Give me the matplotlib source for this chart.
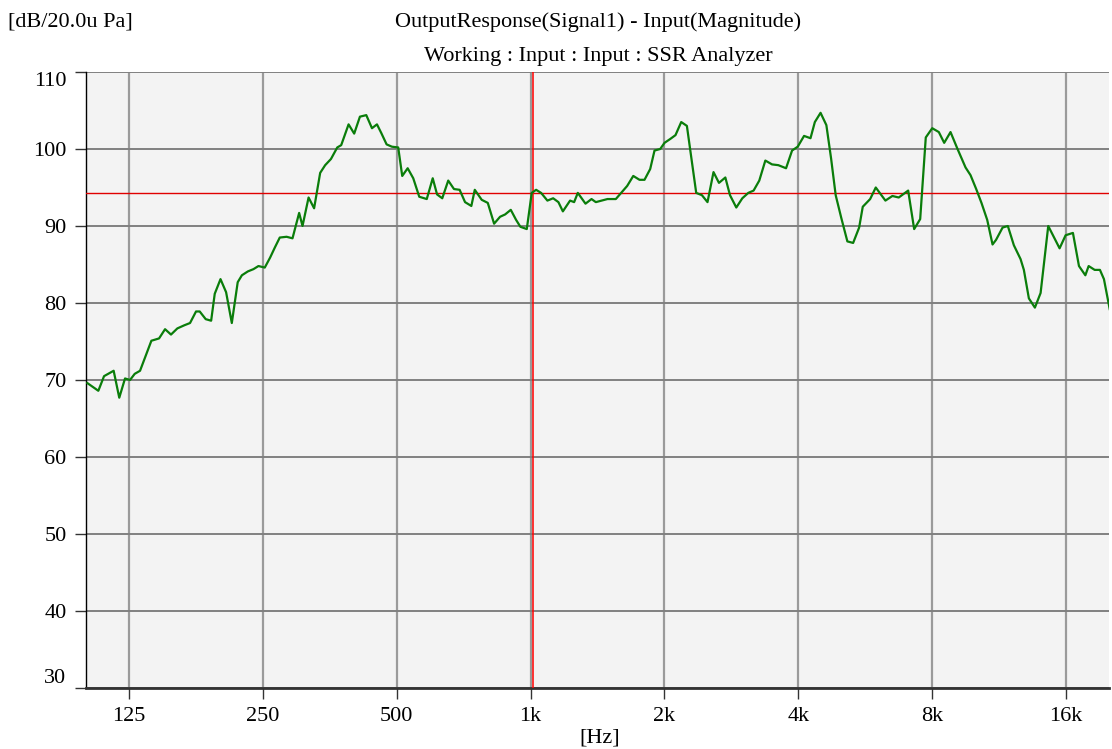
import matplotlib
matplotlib.use("Agg")
import matplotlib.pyplot as plt

# frequency response (Hz, dB re 20 uPa)
freqs = [
    100.7, 106.6, 109.8, 115.4, 118.8, 122.4, 125.6, 128.7, 132.3, 140.3,
    146.0, 150.6, 155.3, 160.5, 166.3, 171.4, 176.8, 180.2, 185.9, 191.2,
    194.8, 200.7, 206.6, 212.8, 219.4, 224.2, 231.2, 238.1, 244.3, 252.4,
    259.5, 265.9, 272.8, 282.6, 291.4, 301.6, 306.9, 316.7, 325.9, 336.3,
    345.1, 355.6, 367.4, 375.0, 389.6, 401.1, 413.2, 427.0, 439.8, 451.3,
    461.3, 474.4, 487.6, 503.8, 514.4, 529.1, 544.6, 561.8, 584.1, 602.4,
    616.1, 632.9, 652.8, 672.5, 692.5, 712.2, 735.8, 749.0, 776.4, 801.2,
    827.8, 853.9, 876.4, 902.5, 927.6, 948.5, 980.5, 1006, 1029, 1056,
    1091, 1124, 1155, 1182, 1227, 1253, 1277, 1329, 1371, 1402,
    1489, 1555, 1621, 1649, 1702, 1758, 1804, 1858, 1900, 1957,
    2001, 2061, 2118, 2182, 2247, 2358, 2429, 2500, 2579, 2653,
    2742, 2809, 2902, 2994, 3088, 3174, 3269, 3373, 3492, 3608,
    3755, 3874, 3989, 4122, 4262, 4359, 4490, 4627, 4741, 4856,
    5001, 5159, 5315, 5483, 5587, 5805, 5976, 6282, 6514, 6731,
    7068, 7291, 7522, 7743, 8006, 8284, 8518, 8802, 9112, 9514,
    9763, 10054, 10332, 10643, 10942, 11142, 11527, 11844, 12219, 12651,
    12869, 13207, 13625, 14034, 14601, 15484, 15976, 16592, 17119, 17694,
    17999, 18570, 19083, 19483, 20074,
]
levels = [
    69.6, 68.6, 70.5, 71.2, 67.7, 70.2, 70.0, 70.8, 71.2, 75.1,
    75.4, 76.6, 75.9, 76.7, 77.1, 77.4, 78.9, 78.9, 77.9, 77.7,
    81.2, 83.1, 81.4, 77.4, 82.7, 83.6, 84.1, 84.4, 84.8, 84.6,
    85.9, 87.2, 88.5, 88.6, 88.4, 91.7, 90.0, 93.7, 92.3, 96.9,
    97.9, 98.7, 100.2, 100.5, 103.2, 102.0, 104.2, 104.4, 102.7, 103.2,
    102.1, 100.6, 100.3, 100.2, 96.5, 97.5, 96.2, 93.8, 93.5, 96.2,
    94.1, 93.6, 95.9, 94.8, 94.7, 93.1, 92.6, 94.7, 93.4, 93.0,
    90.3, 91.2, 91.5, 92.1, 90.8, 89.9, 89.6, 94.3, 94.7, 94.3,
    93.3, 93.6, 93.1, 91.9, 93.3, 93.1, 94.3, 92.9, 93.5, 93.1,
    93.5, 93.5, 94.7, 95.2, 96.5, 96.0, 96.0, 97.4, 99.8, 100.0,
    100.8, 101.3, 101.8, 103.5, 103.0, 94.3, 94.0, 93.1, 97.0, 95.6,
    96.3, 94.0, 92.4, 93.6, 94.3, 94.6, 95.9, 98.5, 98.0, 97.9,
    97.5, 99.8, 100.3, 101.7, 101.4, 103.5, 104.7, 103.1, 98.8, 94.0,
    91.0, 88.0, 87.8, 89.8, 92.5, 93.5, 95.0, 93.3, 93.9, 93.7,
    94.6, 89.6, 90.9, 101.5, 102.7, 102.2, 100.8, 102.2, 100.1, 97.6,
    96.6, 94.8, 93.0, 90.8, 87.6, 88.2, 89.8, 90.0, 87.5, 85.7,
    84.3, 80.6, 79.4, 81.3, 90.0, 87.1, 88.8, 89.1, 84.8, 83.6,
    84.8, 84.3, 84.3, 83.1, 79.2,
]

ref_level = 94.3
cursor_freq = 1012

xticks = [125, 250, 500, 1000, 2000, 4000, 8000, 16000]
xlabels = ["125", "250", "500", "1k", "2k", "4k", "8k", "16k"]
yticks = [30, 40, 50, 60, 70, 80, 90, 100, 110]

FONT = "Liberation Serif"
plt.rcParams["font.family"] = FONT
FS = 16

fig = plt.figure(figsize=(11.12, 7.49), dpi=100)
ax = fig.add_axes([86 / 1112, 1 - 688 / 749, (1109 - 86) / 1112, (688 - 72) / 749])
ax.set_facecolor("#f3f3f3")

ax.set_xscale("log")
ax.set_xlim(100, 20000)
ax.set_ylim(30, 110)
ax.set_xticks(xticks)
ax.set_xticklabels(xlabels)
ax.minorticks_off()
ax.set_yticks(yticks)

ax.grid(axis="x", color="#9a9a9a", lw=1.6)
ax.grid(axis="y", color="#808080", lw=1.4)
ax.set_axisbelow(True)

ax.plot(freqs, levels, color="#0a7d0a", lw=1.6, zorder=4)
ax.axhline(ref_level, color="#e00000", lw=1.0, zorder=3)
ax.axvline(cursor_freq, color="#ff0000", lw=1.3, alpha=0.85, zorder=3)

for s in ("top", "right"):
    ax.spines[s].set_visible(False)
ax.spines["left"].set_color("black")
ax.spines["left"].set_linewidth(1.0)
ax.spines["bottom"].set_color("#333333")
ax.spines["bottom"].set_linewidth(2.0)

ax.tick_params(axis="x", length=8, width=1, color="#333333", labelsize=FS, pad=6)
ax.tick_params(axis="y", length=8, width=1, color="#333333", labelsize=FS, pad=6)

ytl = ax.yaxis.get_major_ticks()
ytl[0].label1.set_va("bottom")
ytl[-1].label1.set_va("top")

fig.text(8 / 1112, 1 - 22 / 749, "[dB/20.0u Pa]", fontsize=FS, ha="left", va="center")
fig.text(598 / 1112, 1 - 22 / 749, "OutputResponse(Signal1) - Input(Magnitude)",
         fontsize=FS, ha="center", va="center")
fig.text(598 / 1112, 1 - 56 / 749, "Working : Input : Input : SSR Analyzer",
         fontsize=FS, ha="center", va="center")
fig.text(600 / 1112, 1 - 738 / 749, "[Hz]", fontsize=FS, ha="center", va="center")

fig.savefig("out.png", dpi=100)
